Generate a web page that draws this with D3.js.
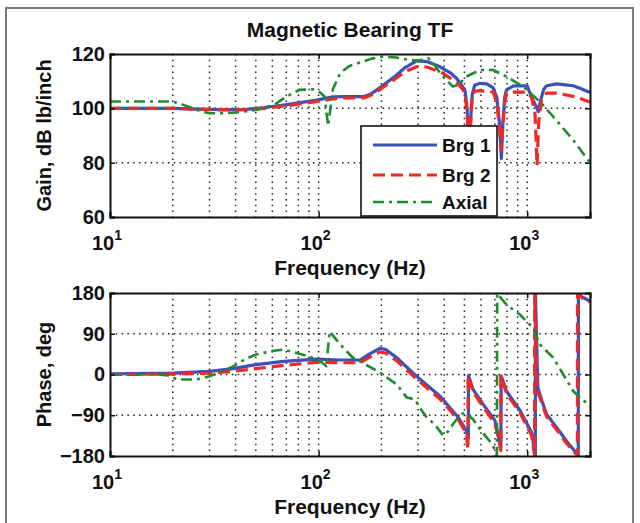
<!DOCTYPE html>
<html>
<head>
<meta charset="utf-8">
<script src="https://cdn.jsdelivr.net/npm/d3@7"></script>
<style>
  html, body { margin: 0; padding: 0; background: #fff; }
  svg { display: block; }
  text { font-family: "Liberation Sans", Arial, sans-serif; font-weight: bold; fill: #111; }
</style>
</head>
<body>
<svg id="chart" width="640" height="523"></svg>
<script>
// Frequency response of the magnetic bearing controller: [Hz, value] pairs.
const brg1Gain = [[10,100],[20,100],[27,99.7],[35,99.5],[45,99.6],[55,100.3],[68,101.2],[80,102],[98,103],[117,104.2],[130,104.3],[165,104.3],[180,105.5],[200,108],[230,111.5],[260,115],[295,117.5],[330,117.2],[382,115.3],[430,113],[459,111],[490,108],[503,106.8],[515,100],[522,90],[528,86],[535,95],[545,105],[560,108.5],[594,109.2],[640,109],[687,107.5],[715,104],[735,95],[752,81.6],[765,95],[780,104],[796,106.8],[860,108.3],[1000,108.3],[1050,104],[1100,101],[1130,98.8],[1160,103],[1200,107],[1239,108.3],[1384,109],[1663,108.3],[1800,107.3],[2000,105.8]];
const brg2Gain = [[10,100],[20,100],[27,99.6],[35,99.4],[45,99.5],[55,100],[68,100.8],[80,101.5],[98,102.5],[117,103.5],[130,103.8],[165,103.8],[180,105],[200,107.3],[230,110.5],[260,113.5],[295,115.3],[330,115.2],[382,113.5],[430,111],[459,109.5],[490,107],[503,105.6],[515,98],[522,90],[528,85],[535,94],[545,104],[560,106.3],[594,106.5],[687,106],[715,102],[735,93],[752,84.5],[765,94],[780,102],[796,105.5],[860,106],[1000,106],[1050,104],[1090,98],[1115,79],[1135,95],[1170,103],[1239,105.6],[1384,105.6],[1663,104.4],[1800,103.6],[2000,102.3]];
const axialGain = [[10,102.5],[20,102.5],[23,101],[27,99],[30,98.2],[36,98.2],[42,98.6],[50,99.4],[61,101.2],[70,104.3],[81,106.8],[94,107],[101,106],[107,104.3],[111,93.5],[114,100],[117,107],[127,113],[140,115.5],[158,116.9],[180,118.3],[204,119],[235,118.7],[265,118],[300,117.5],[335,118.5],[360,116],[382,112.9],[440,108],[468,108.6],[510,111.7],[594,114.1],[687,114.1],[796,111.7],[957,108],[1151,102.4],[1334,96.9],[1663,88.3],[2000,80]];

const brg1Phase = [[10,1.3],[20,3],[30,7],[39,13],[50,22],[68,29],[98,34],[127,32],[158,32],[175,45],[197,58],[210,55],[237,37],[295,-4],[382,-48],[468,-95],[510,-124],[522,-140],[523,-2],[550,-33],[615,-66],[701,-102],[726,-135],[748,-160],[750,-3],[796,-37],[925,-80],[1050,-128],[1094,-179],[1095,179],[1125,-30],[1180,-60],[1239,-88],[1384,-117],[1550,-148],[1757,-179],[1760,178],[1850,170],[2000,162]];
const brg2Phase = [[10,0],[20,1],[30,3],[39,7],[50,13],[68,20],[98,27],[127,26],[158,26],[175,38],[197,50],[210,47],[237,30],[295,-10],[382,-54],[468,-100],[510,-130],[520,-165],[521,-2],[550,-38],[615,-72],[701,-108],[735,-150],[747,-168],[748,-2],[796,-42],[925,-85],[1050,-135],[1085,-179],[1086,179],[1115,-35],[1180,-65],[1239,-93],[1384,-122],[1550,-153],[1740,-179],[1742,178],[1850,168],[2000,160]];
const axialPhase = [[10,0],[17,0],[19,-2],[21,-11],[26,-11],[30,-4],[35,8],[39,18],[44,33],[50,44],[60,52],[68,55],[75,50],[81,46],[90,40],[98,33],[105,25],[109,18],[111,60],[113,95],[127,66],[146,37],[158,29],[197,4],[237,-22],[265,-51],[290,-55],[305,-73],[330,-95],[360,-110],[396,-135],[420,-125],[440,-110],[480,-88],[503,-84],[550,-99],[594,-121],[679,-154],[701,-168],[716,-179],[718,179],[796,154],[925,132],[1070,102],[1151,66],[1334,37],[1663,-37],[2000,-70]];

const seriesNames = ["Brg 1", "Brg 2", "Axial"];
const gainTicks = [60, 80, 100, 120];
const phaseTicks = [-180, -90, 0, 90, 180];
const decadeTicks = [10, 100, 1000];
const decadeExponents = ["1", "2", "3"];
const minorTicks = [20,30,40,50,60,70,80,90,200,300,400,500,600,700,800,900];

const styles = [
  { color: "#3c52b8", width: 3.2, dash: null },
  { color: "#f02828", width: 3.2, dash: "12,6" },
  { color: "#1f8a2e", width: 2.6, dash: "11,5,3,5" }
];

const svg = d3.select("#chart");

// outer figure frame
svg.append("path")
  .attr("d", "M6,523 L6,8 L633,8 L633,523")
  .attr("fill", "none").attr("stroke", "#7a7a7a").attr("stroke-width", 2);

const x = d3.scaleLog().domain([10, 2000]).range([110, 590]);

function panel(top, bottom, yDomain, yTicks, yLabel, data, clipId) {
  const y = d3.scaleLinear().domain(yDomain).range([bottom, top]);
  const g = svg.append("g");

  // grid
  const grid = g.append("g").attr("stroke", "#222").attr("stroke-width", 1.5)
    .attr("stroke-dasharray", "1.5,4.3").attr("fill", "none");
  grid.selectAll("line.vx").data(decadeTicks.concat(minorTicks).filter(d => d > 10))
    .join("line").attr("x1", d => x(d)).attr("x2", d => x(d)).attr("y1", top).attr("y2", bottom);
  grid.selectAll("line.hy").data(yTicks.slice(1, -1))
    .join("line").attr("x1", 110).attr("x2", 590).attr("y1", d => y(d)).attr("y2", d => y(d));

  // curves
  g.append("clipPath").attr("id", clipId).append("rect")
    .attr("x", 110).attr("y", top).attr("width", 480).attr("height", bottom - top);
  const line = d3.line().x(d => x(d[0])).y(d => y(d[1]));
  data.forEach((s, i) => {
    g.append("path").datum(s).attr("d", line)
      .attr("clip-path", `url(#${clipId})`)
      .attr("fill", "none").attr("stroke", styles[i].color)
      .attr("stroke-width", styles[i].width)
      .attr("stroke-dasharray", styles[i].dash)
      .attr("stroke-linejoin", "round");
  });

  // axes box with inward ticks
  const axL = d3.axisLeft(y).tickValues(yTicks).tickSize(-5).tickPadding(5).tickFormat(d3.format("d"));
  const axR = d3.axisRight(y).tickValues(yTicks).tickSize(-5).tickFormat("");
  const axB = d3.axisBottom(x).tickValues(decadeTicks).tickSize(-5).tickFormat("");
  const axT = d3.axisTop(x).tickValues(decadeTicks).tickSize(-5).tickFormat("");
  [[axL, `translate(110,0)`], [axR, `translate(590,0)`], [axB, `translate(0,${bottom})`], [axT, `translate(0,${top})`]]
    .forEach(([ax, tr]) => {
      const a = g.append("g").attr("transform", tr).call(ax);
      a.select(".domain").attr("stroke", "#111").attr("stroke-width", 2);
      a.selectAll(".tick line").attr("stroke", "#111").attr("stroke-width", 1.5);
      a.selectAll("text").attr("font-size", 20).attr("font-family", null).attr("fill", "#111");
    });

  // decade labels 10^n
  decadeTicks.forEach((d, i) => {
    const t = g.append("text").attr("x", x(d) - 3).attr("y", bottom + 33)
      .attr("text-anchor", "middle").attr("font-size", 20);
    t.append("tspan").text("10");
    t.append("tspan").attr("dy", -10).attr("font-size", 14).text(decadeExponents[i]);
  });

  g.append("text").attr("x", 350).attr("y", bottom + 58).attr("text-anchor", "middle")
    .attr("font-size", 21).text("Frequency (Hz)");
  g.append("text").attr("transform", `translate(51,${(top + bottom) / 2}) rotate(-90)`)
    .attr("text-anchor", "middle").attr("font-size", 20).text(yLabel);
  return g;
}

svg.append("text").attr("x", 350).attr("y", 37).attr("text-anchor", "middle")
  .attr("font-size", 21).text("Magnetic Bearing TF");

panel(54, 217, [60, 120], gainTicks, "Gain, dB lb/inch", [brg1Gain, brg2Gain, axialGain], "clipGain");
panel(293, 456, [-180, 180], phaseTicks, "Phase, deg", [brg1Phase, brg2Phase, axialPhase], "clipPhase");

// legend
const lg = svg.append("g").attr("transform", "translate(361,126)");
lg.append("rect").attr("width", 136).attr("height", 90)
  .attr("fill", "#fff").attr("stroke", "#111").attr("stroke-width", 1.6);
seriesNames.forEach((name, i) => {
  const yy = [19, 49, 76][i];
  lg.append("line").attr("x1", 12).attr("x2", 76).attr("y1", yy).attr("y2", yy)
    .attr("stroke", styles[i].color).attr("stroke-width", styles[i].width)
    .attr("stroke-dasharray", styles[i].dash);
  lg.append("text").attr("x", 81).attr("y", yy + 7).attr("font-size", 19).text(name);
});
</script>
</body>
</html>
